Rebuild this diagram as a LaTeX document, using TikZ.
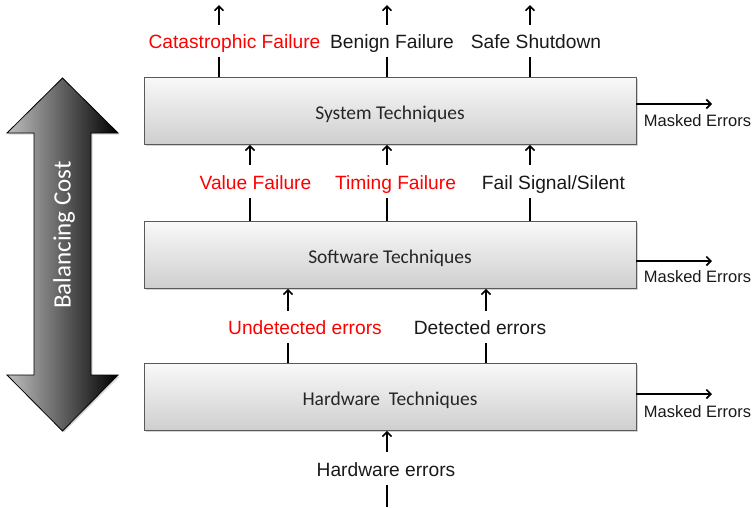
\documentclass[tikz,border=0pt]{standalone}
\usepackage{fontspec}
\newfontfamily\lblfont{Liberation Sans}
\newfontfamily\boxfont{Carlito}
\usetikzlibrary{arrows.meta,shadows}
\definecolor{lblred}{RGB}{255,0,0}
\begin{document}
\begin{tikzpicture}[x=1pt,y=-1pt,
  techbox/.style={draw=black!65, line width=0.9pt, top color=gray!5, bottom color=gray!38,
    minimum width=492pt, minimum height=67pt, inner sep=0pt,
    text height=19pt, text depth=2pt,
    font=\boxfont\fontsize{19.5}{22}\selectfont, text=black!85,
    drop shadow={shadow xshift=1.5pt, shadow yshift=-1.5pt, opacity=0.35}},
  lbl/.style={inner sep=0pt, minimum height=32pt, text height=18pt, text depth=3pt,
    font=\lblfont\fontsize{19.2}{22}\selectfont, text=black!90},
  redlbl/.style={lbl, text=lblred},
  masked/.style={inner sep=0pt, font=\lblfont\fontsize{16.5}{20}\selectfont, text=black!90},
  conn/.style={line width=1.9pt, black},
  arr/.style={conn, -{Straight Barb[length=4.5pt,width=9pt,line width=1.6pt]}}
]
\useasboundingbox (0,0) rectangle (756,507);

% boxes
\node[techbox] (sys) at (390,111) {System Techniques};
\node[techbox] (sw) at (390,255) {Software Techniques};
\node[techbox] (hw) at (390,397) {Hardware\ \ Techniques};

% balancing cost double arrow
\path[left color=gray!50, right color=black, draw=black, line width=0.8pt,
  drop shadow={shadow xshift=1.5pt, shadow yshift=-1.5pt, opacity=0.3}]
  (62.5,78) -- (118,133) -- (91,133) -- (91,375) -- (118,375) -- (62.5,431)
  -- (7,375) -- (34,375) -- (34,133) -- (7,133) -- cycle;
\node[rotate=90, text=white, inner sep=0pt, font=\boxfont\fontsize{25}{28}\selectfont] (bc) at (64,235) {Balancing Cost};

% top outputs
\node[redlbl] (cf) at (234.5,41) {Catastrophic Failure};
\node[lbl] (bf) at (392,41) {Benign Failure};
\node[lbl] (ss) at (536,41) {Safe Shutdown};
\coordinate (cfT) at (219,5);
\coordinate (bfT) at (387,5);
\coordinate (ssT) at (530,5);
\draw[conn] (sys.north -| cfT) -- (cf.south -| cfT);
\draw[arr] (cf.north -| cfT) -- (cfT);
\draw[conn] (sys.north -| bfT) -- (bf.south -| bfT);
\draw[arr] (bf.north -| bfT) -- (bfT);
\draw[conn] (sys.north -| ssT) -- (ss.south -| ssT);
\draw[arr] (ss.north -| ssT) -- (ssT);

% software -> system
\node[redlbl, minimum height=33pt] (vf) at (255.5,181.5) {Value Failure};
\node[redlbl, minimum height=33pt] (tf) at (395.5,181.5) {Timing Failure};
\node[lbl, minimum height=33pt] (fs) at (553.5,181.5) {Fail Signal/Silent};
\coordinate (vfX) at (250,0);
\coordinate (tfX) at (387,0);
\coordinate (fsX) at (530,0);
\draw[conn] (sw.north -| vfX) -- (vf.south -| vfX);
\draw[arr] (vf.north -| vfX) -- (sys.south -| vfX);
\draw[conn] (sw.north -| tfX) -- (tf.south -| tfX);
\draw[arr] (tf.north -| tfX) -- (sys.south -| tfX);
\draw[conn] (sw.north -| fsX) -- (fs.south -| fsX);
\draw[arr] (fs.north -| fsX) -- (sys.south -| fsX);

% hardware -> software
\node[redlbl] (ud) at (305,327) {Undetected errors};
\node[lbl] (de) at (480,327) {Detected errors};
\coordinate (udX) at (288,0);
\coordinate (deX) at (486,0);
\draw[conn] (hw.north -| udX) -- (ud.south -| udX);
\draw[arr] (ud.north -| udX) -- (sw.south -| udX);
\draw[conn] (hw.north -| deX) -- (de.south -| deX);
\draw[arr] (de.north -| deX) -- (sw.south -| deX);

% hardware errors input
\node[lbl, minimum height=33pt] (he) at (386,468.5) {Hardware errors};
\coordinate (heB) at (387,507);
\draw[conn] (heB) -- (he.south -| heB);
\draw[arr] (he.north -| heB) -- (hw.south -| heB);

% masked errors
\coordinate (m1) at (712,104);
\coordinate (m2) at (712,261);
\coordinate (m3) at (712,394);
\draw[arr, line width=1.5pt] (sys.east |- m1) -- (m1);
\draw[arr, line width=1.5pt] (sw.east |- m2) -- (m2);
\draw[arr, line width=1.5pt] (hw.east |- m3) -- (m3);
\node[masked] (me1) at (697.5,121) {Masked Errors};
\node[masked] (me2) at (697.5,277) {Masked Errors};
\node[masked] (me3) at (697.5,412) {Masked Errors};
\end{tikzpicture}
\end{document}
